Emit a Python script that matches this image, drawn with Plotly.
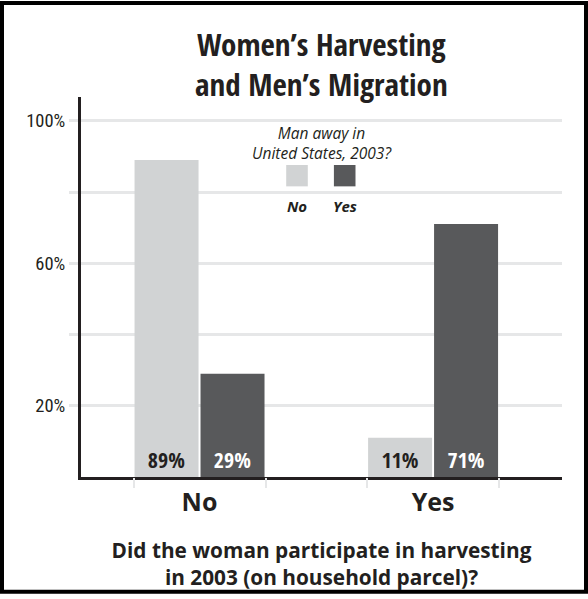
import plotly.graph_objects as go

# ---- data ----
categories = ["No", "Yes"]                     # Did the woman participate in harvesting?
series_names = ["No", "Yes"]                   # Man away in United States, 2003?
values_away_no = [89, 11]
values_away_yes = [29, 71]
labels_away_no = ["89%", "11%"]
labels_away_yes = ["29%", "71%"]
y_tickvals = [20, 40, 60, 80, 100]
y_ticktext = ["20%", "", "60%", "", "100%"]

title_text = "Women’s Harvesting<br>and Men’s Migration"
legend_title_text = "Man away in<br>United States, 2003?"
xaxis_title = "Did the woman participate in harvesting<br>in 2003 (on household parcel)?"

# ---- style ----
W, H = 588, 599
L, R, T, B = 81, 26, 97, 118
LIGHT = "#d1d3d4"
DARK = "#58595b"
INK = "#231f20"
GRID = "#e6e7e8"
BARGAP = 0.435
COND_BOLD = "Open Sans Condensed, Roboto Condensed, sans-serif"
COND = "Roboto Condensed, sans-serif"
OPEN = "Open Sans, sans-serif"
XRANGE = [-0.5075, 1.552]
YRANGE = [0, 106.67]


def px2x(px):
    return (px - L) / (W - L - R)


def py2y(py):
    return (H - B - py) / (H - T - B)


fig = go.Figure()
fig.add_trace(go.Bar(
    x=categories, y=values_away_no, name=series_names[0], text=labels_away_no,
    marker=dict(color=LIGHT, line=dict(width=0)),
    textposition="inside", insidetextanchor="start", textangle=0,
    insidetextfont=dict(family=COND_BOLD, size=22, color=INK, weight="bold"),
    showlegend=False,
))
fig.add_trace(go.Bar(
    x=categories, y=values_away_yes, name=series_names[1], text=labels_away_yes,
    marker=dict(color=DARK, line=dict(width=0)),
    textposition="inside", insidetextanchor="start", textangle=0,
    insidetextfont=dict(family=COND_BOLD, size=22, color="white", weight="bold"),
    showlegend=False,
))
# invisible trace carrying the secondary axis with group-edge tick marks
fig.add_trace(go.Scatter(x=[None], y=[None], xaxis="x2", yaxis="y",
                         showlegend=False, hoverinfo="skip"))

half = (1 - BARGAP) / 2
edge_ticks = []
for i in range(len(categories)):
    edge_ticks += [i - half, i + half]

shapes = [
    dict(type="rect", xref="paper", yref="paper",
         x0=px2x(2), x1=px2x(586), y0=py2y(597), y1=py2y(2),
         line=dict(color="black", width=4), fillcolor="rgba(0,0,0,0)", layer="above"),
]
swatch_centers = [297, 344.7]
swatch_colors = [LIGHT, DARK]
for cx, col in zip(swatch_centers, swatch_colors):
    shapes.append(dict(type="rect", xref="paper", yref="paper",
                       x0=px2x(cx - 10.8), x1=px2x(cx + 10.8),
                       y0=py2y(187.3), y1=py2y(165.7),
                       fillcolor=col, line=dict(width=0), layer="above"))

annotations = [
    dict(text=legend_title_text, xref="paper", yref="paper",
         x=px2x(321.5), y=py2y(143), xanchor="center", yanchor="middle",
         showarrow=False, font=dict(family=OPEN, size=15.5, color=INK, style="italic")),
    dict(text=title_text, xref="paper", yref="paper",
         x=px2x(321.5), y=py2y(64), xanchor="center", yanchor="middle",
         showarrow=False, font=dict(family=COND_BOLD, size=31, color=INK, weight="bold")),
]
for txt, cx in zip(series_names, swatch_centers):
    annotations.append(dict(text=txt, xref="paper", yref="paper",
                            x=px2x(cx), y=py2y(206.7), xanchor="center", yanchor="middle",
                            showarrow=False,
                            font=dict(family=OPEN, size=15, color=INK, style="italic", weight="bold")))

fig.update_layout(
    width=W, height=H,
    margin=dict(l=L, r=R, t=T, b=B, pad=0),
    paper_bgcolor="white", plot_bgcolor="white",
    barmode="group", bargap=BARGAP, bargroupgap=0.03,
    showlegend=False,
    shapes=shapes, annotations=annotations,
    xaxis=dict(
        type="category", range=XRANGE,
        showline=True, linecolor=INK, linewidth=3,
        showgrid=False, zeroline=False, ticks="",
        tickfont=dict(family=OPEN, size=25, color=INK, weight="bold"),
        ticklabelstandoff=1,
        title=dict(text=xaxis_title, standoff=27,
                   font=dict(family=OPEN, size=20.8, color=INK, weight="bold")),
    ),
    xaxis2=dict(
        overlaying="x", anchor="y", range=XRANGE, type="linear",
        tickvals=edge_ticks, ticks="outside", ticklen=10, tickwidth=2, tickcolor=GRID,
        showticklabels=False, showgrid=False, showline=False, zeroline=False,
    ),
    yaxis=dict(
        range=YRANGE, tickvals=y_tickvals, ticktext=y_ticktext,
        showline=True, linecolor=INK, linewidth=3,
        showgrid=True, gridcolor=GRID, gridwidth=2.5, zeroline=False,
        ticks="outside", ticklen=9, tickwidth=2.5, tickcolor=GRID,
        tickfont=dict(family=COND, size=18.5, color=INK),
    ),
    hovermode=False,
)

fig.write_html(
    "out.html",
    config={"displayModeBar": False},
    post_script="document.body.style.margin='0';document.body.style.overflow='hidden';",
)
